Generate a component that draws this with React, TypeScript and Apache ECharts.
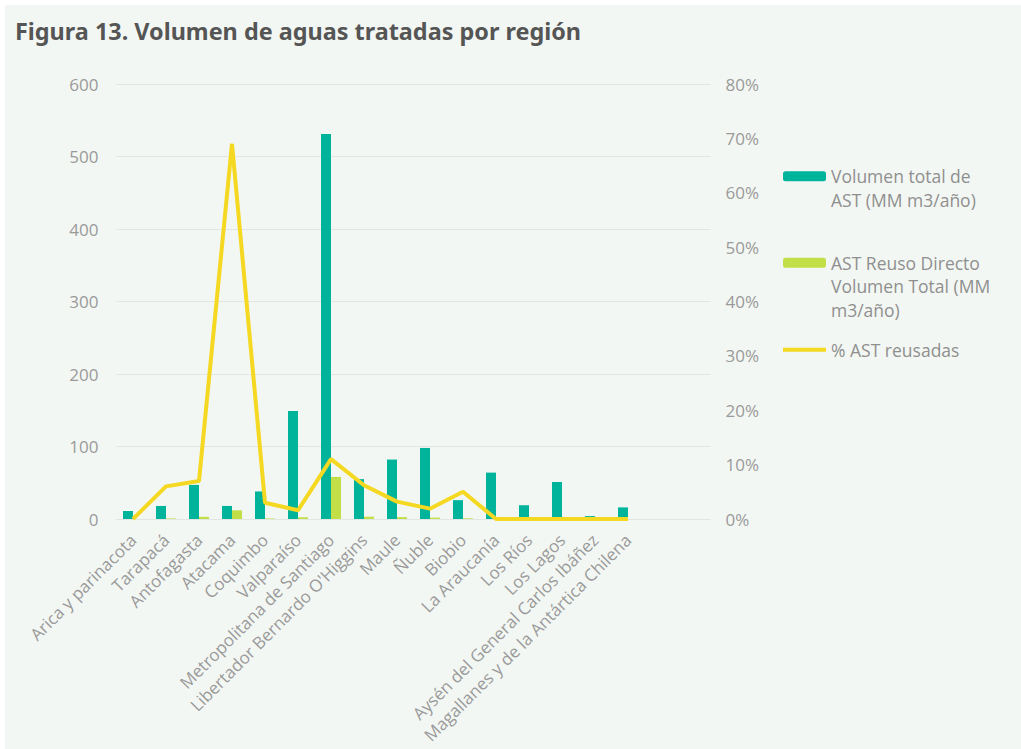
import React, { useEffect, useRef } from "react";
import * as echarts from "echarts";

const categories = [
  "Arica y parinacota",
  "Tarapacá",
  "Antofagasta",
  "Atacama",
  "Coquimbo",
  "Valparaíso",
  "Metropolitana de Santiago",
  "Libertador Bernardo O'Higgins",
  "Maule",
  "Ñuble",
  "Biobio",
  "La Araucanía",
  "Los Ríos",
  "Los Lagos",
  "Aysén del General Carlos Ibáñez",
  "Magallanes y de la Antártica Chilena",
  "",
  "",
];
const volumenTotal = [11, 18, 47, 18, 38, 149, 531, 55, 82, 98, 26, 64, 19, 51, 4, 16];
const reusoDirecto = [0, 0.8, 3, 12, 0.8, 2.4, 58, 3.2, 2.6, 1.9, 1, 0, 0, 0, 0, 0];
const pctReusadas = [0, 6, 7, 69, 3, 1.6, 11, 6.2, 3.2, 1.9, 5, 0, 0, 0, 0, 0];
const leftTicks = { min: 0, max: 600, interval: 100 };
const rightTicks = { min: 0, max: 80, interval: 10 };

const TEAL = "#00b49b";
const GREEN = "#c2df48";
const YELLOW = "#f5d821";
const FONT = "Open Sans";

export default function App() {
  const ref = useRef<HTMLDivElement>(null);
  useEffect(() => {
    if (!ref.current) return;
    const chart = echarts.init(ref.current, undefined, { renderer: "svg" });
    const legendText = { color: "#8f8f8f", fontFamily: FONT, fontSize: 17.5, lineHeight: 23.5 };
    chart.setOption({
      animation: false,
      backgroundColor: "#f3f7f3",
      title: {
        text: "Figura 13. Volumen de aguas tratadas por región",
        left: 5,
        top: 9,
        textStyle: { color: "#555555", fontFamily: "Noto Sans", fontWeight: "bold", fontSize: 23.4 },
      },
      legend: [
        {
          data: ["Volumen total de AST (MM m3/año)"],
          orient: "vertical",
          left: 778,
          top: 136,
          padding: 0,
          itemWidth: 43,
          itemHeight: 10,
          selectedMode: false,
          formatter: () => "\nVolumen total de\nAST (MM m3/año)",
          textStyle: legendText,
        },
        {
          data: ["AST Reuso Directo Volumen Total (MM m3/año)"],
          orient: "vertical",
          left: 778,
          top: 199,
          padding: 0,
          itemWidth: 43,
          itemHeight: 10,
          selectedMode: false,
          formatter: () => "\n\nAST Reuso Directo\nVolumen Total (MM\nm3/año)",
          textStyle: legendText,
        },
        {
          data: [{ name: "% AST reusadas", icon: "rect" }],
          orient: "vertical",
          left: 778,
          top: 333,
          padding: 0,
          itemWidth: 43,
          itemHeight: 4,
          selectedMode: false,
          textStyle: legendText,
        },
      ],
      grid: { left: 111.5, top: 79, width: 594, height: 435, containLabel: false },
      xAxis: {
        type: "category",
        data: categories,
        axisLine: { show: true, lineStyle: { color: "#e2e5e2", width: 1 } },
        axisTick: { show: false },
        axisLabel: {
          interval: 0,
          rotate: 45,
          margin: 18,
          color: "#9a9a9a",
          fontFamily: FONT,
          fontSize: 17,
        },
      },
      yAxis: [
        {
          type: "value",
          min: leftTicks.min,
          max: leftTicks.max,
          interval: leftTicks.interval,
          axisLine: { show: false },
          axisTick: { show: false },
          splitLine: { lineStyle: { color: "#e2e5e2", width: 1 } },
          axisLabel: { color: "#9a9a9a", fontFamily: FONT, fontSize: 17, margin: 18 },
        },
        {
          type: "value",
          min: rightTicks.min,
          max: rightTicks.max,
          interval: rightTicks.interval,
          axisLine: { show: false },
          axisTick: { show: false },
          splitLine: { show: false },
          axisLabel: {
            color: "#9a9a9a",
            fontFamily: FONT,
            fontSize: 17,
            margin: 15,
            formatter: "{value}%",
          },
        },
      ],
      series: [
        {
          name: "Volumen total de AST (MM m3/año)",
          type: "bar",
          data: volumenTotal,
          barWidth: 10,
          barGap: "0%",
          itemStyle: { color: TEAL },
        },
        {
          name: "AST Reuso Directo Volumen Total (MM m3/año)",
          type: "bar",
          data: reusoDirecto,
          barWidth: 10,
          barGap: "0%",
          itemStyle: { color: GREEN },
        },
        {
          name: "% AST reusadas",
          type: "line",
          yAxisIndex: 1,
          data: pctReusadas,
          symbol: "none",
          showSymbol: false,
          z: 5,
          lineStyle: { color: YELLOW, width: 4 },
          itemStyle: { color: YELLOW },
        },
      ],
    });
    return () => chart.dispose();
  }, []);
  return (
    <div style={{ position: "fixed", left: 0, top: 0, width: 1021, height: 749, background: "#ffffff" }}>
      <div ref={ref} style={{ position: "absolute", left: 5, top: 5, width: 1016, height: 744 }} />
    </div>
  );
}
